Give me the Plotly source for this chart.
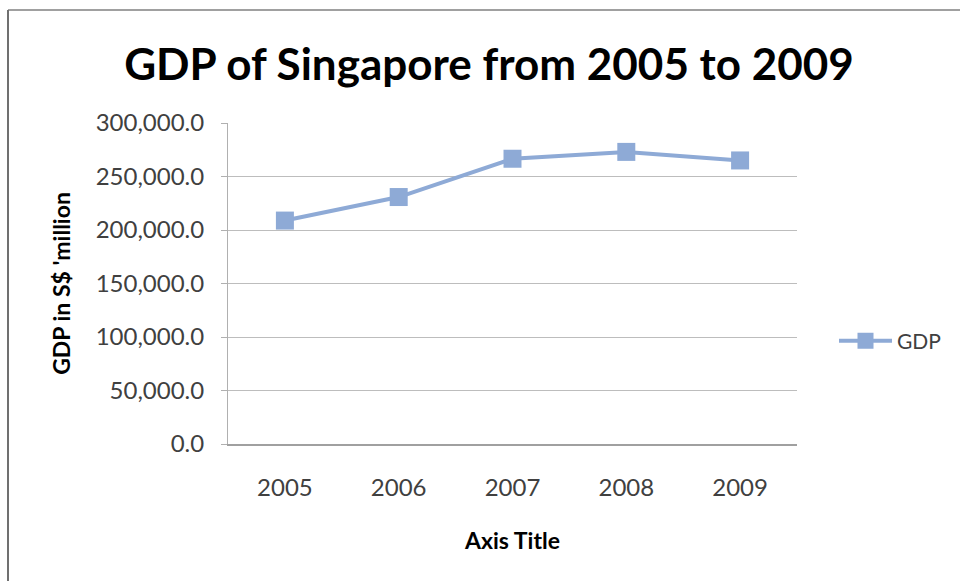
import plotly.graph_objects as go

# GDP of Singapore, S$ million
years = ["2005", "2006", "2007", "2008", "2009"]
gdp = [208800, 230800, 266600, 273000, 265000]
y_ticks = [0, 50000, 100000, 150000, 200000, 250000, 300000]
y_tick_labels = [f"{v:,.1f}" for v in y_ticks]

W, H = 960, 581
L, R, T, B = 228, 163, 123, 137
pw, ph = W - L - R, H - T - B

def px_x(x):
    return (x - L) / pw

def px_y(y):
    return (H - B - y) / ph

series_color = "#8eaad6"
grid_color = "#bdbdbd"
text_color = "#404040"
font_family = "Lato, 'Open Sans', sans-serif"

fig = go.Figure()
fig.add_trace(go.Scatter(
    x=years, y=gdp, name="GDP", mode="lines+markers",
    line=dict(color=series_color, width=4),
    marker=dict(symbol="square", size=18, color=series_color),
))

fig.update_layout(
    width=W, height=H,
    margin=dict(l=L, r=R, t=T, b=B),
    paper_bgcolor="white", plot_bgcolor="white",
    font=dict(family=font_family, color=text_color, size=20),
    title=dict(
        text="<b>GDP of Singapore from 2005 to 2009</b>",
        x=px_x(489), xanchor="center", xref="paper",
        y=1 - 65 / H, yanchor="middle",
        font=dict(size=44, color="#000000", family=font_family),
    ),
    showlegend=True,
    legend=dict(
        x=px_x(834), y=px_y(341), xanchor="left", yanchor="middle",
        itemwidth=53,
        font=dict(size=21, color=text_color), bgcolor="rgba(0,0,0,0)",
    ),
    xaxis=dict(
        type="category", range=[-0.5, 4.5],
        showgrid=False, showline=True, linecolor="#a0a0a0", linewidth=2,
        ticks="", tickfont=dict(size=24, color=text_color),
        ticklabelstandoff=21,
        title=dict(text="<b>Axis Title</b>", font=dict(size=23, color="#000000"), standoff=33),
    ),
    yaxis=dict(
        range=[0, 300000], tickvals=y_ticks, ticktext=y_tick_labels,
        showgrid=True, gridcolor=grid_color, gridwidth=1,
        showline=True, linecolor="#b0b0b0", linewidth=1,
        ticks="outside", ticklen=6, tickcolor="#b0b0b0",
        ticklabelstandoff=12,
        tickfont=dict(size=24, color=text_color),
        zeroline=False,
        title=dict(text="<b>GDP in S$ 'million</b>", font=dict(size=23, color="#000000"), standoff=18),
    ),
    shapes=[
        # chart frame: top and left edges
        dict(type="line", xref="paper", yref="paper",
             x0=px_x(8), x1=px_x(W), y0=px_y(10), y1=px_y(10),
             line=dict(color="#a0a0a0", width=2)),
        dict(type="line", xref="paper", yref="paper",
             x0=px_x(8), x1=px_x(8), y0=px_y(10), y1=px_y(H),
             line=dict(color="#707070", width=2)),
    ],
)

fig.write_html("out.html")
